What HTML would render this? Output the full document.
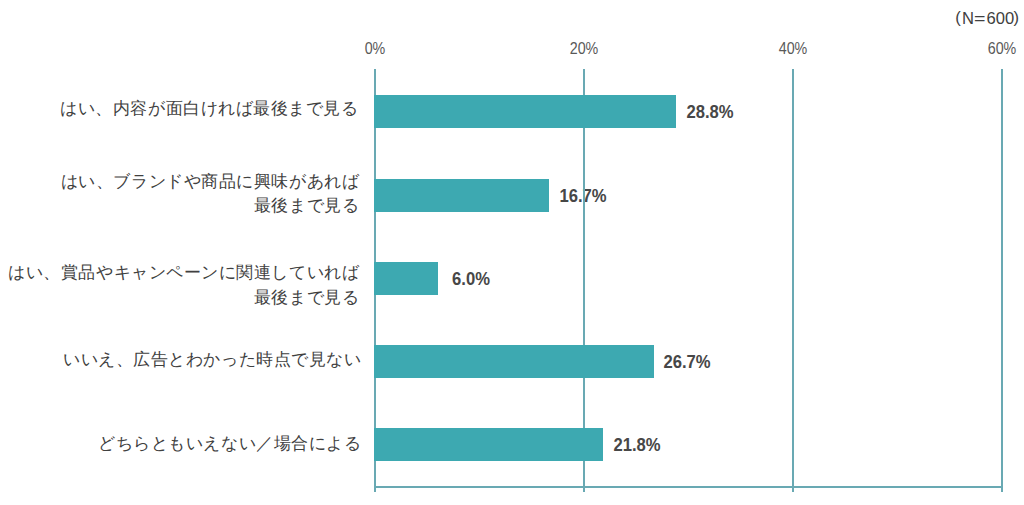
<!DOCTYPE html>
<html lang="ja">
<head>
<meta charset="utf-8">
<style>
html,body{margin:0;padding:0;}
body{width:1024px;height:505px;background:#ffffff;position:relative;overflow:hidden;font-family:"Liberation Sans",sans-serif;}
.gl{position:absolute;top:69px;width:2px;height:423px;background:#69a9b3;}
.ax{position:absolute;left:374px;top:486px;width:629px;height:2px;background:#69a9b3;}
.bar{position:absolute;left:374px;height:33px;background:#3da9b1;}
.tick{position:absolute;top:37.5px;width:80px;margin-left:-40px;text-align:center;font-size:17px;line-height:22px;color:#595959;transform:scaleX(0.84);}
.val{position:absolute;width:80px;margin-left:-40px;text-align:center;font-size:17.5px;font-weight:bold;line-height:20px;color:#474747;transform:scaleX(0.95);}
.lab{position:absolute;right:667px;text-align:right;font-size:17px;letter-spacing:0.55px;line-height:24px;color:#404040;white-space:nowrap;}
.n{position:absolute;top:6px;font-size:16.6px;line-height:22px;color:#404040;white-space:nowrap;}
</style>
</head>
<body>
<div class="n" style="left:955.2px;top:6.5px">(</div>
<div class="n" style="left:962px;top:8px">N</div>
<div class="n" style="left:974px;top:8px;transform:scaleX(1.18);transform-origin:0 0">=</div>
<div class="n" style="left:986.6px;top:8px">600</div>
<div class="n" style="left:1013.6px;top:6.5px">)</div>
<div class="tick" style="left:374.5px">0%</div>
<div class="tick" style="left:583.7px">20%</div>
<div class="tick" style="left:793px">40%</div>
<div class="tick" style="left:1002.2px">60%</div>

<div class="val" style="left:709.7px;top:102px">28.8%</div>
<div class="val" style="left:582.5px;top:185.5px">16.7%</div>
<div class="val" style="left:470.7px;top:269px">6.0%</div>
<div class="val" style="left:687.3px;top:352px">26.7%</div>
<div class="val" style="left:636.5px;top:435px">21.8%</div>

<div class="lab" style="top:97.3px;right:665.4px">はい、内容が面白ければ最後まで見る</div>
<div class="lab" style="top:169.6px;right:664.8px;line-height:24.2px">はい、ブランドや商品に興味があれば<br>最後まで見る</div>
<div class="lab" style="top:261px;right:664.8px;line-height:24.6px">はい、賞品やキャンペーンに関連していれば<br>最後まで見る</div>
<div class="lab" style="top:348.3px;right:662.6px">いいえ、広告とわかった時点で見ない</div>
<div class="lab" style="top:432.3px;right:662.6px">どちらともいえない／場合による</div>
<div class="gl" style="left:373.5px"></div>
<div class="gl" style="left:582.7px"></div>
<div class="gl" style="left:792px"></div>
<div class="gl" style="left:1001.2px"></div>
<div class="ax"></div>

<div class="bar" style="top:95px;width:302px"></div>
<div class="bar" style="top:179px;width:175px"></div>
<div class="bar" style="top:262px;width:64px"></div>
<div class="bar" style="top:345px;width:280px"></div>
<div class="bar" style="top:428px;width:229px"></div>

</body>
</html>
